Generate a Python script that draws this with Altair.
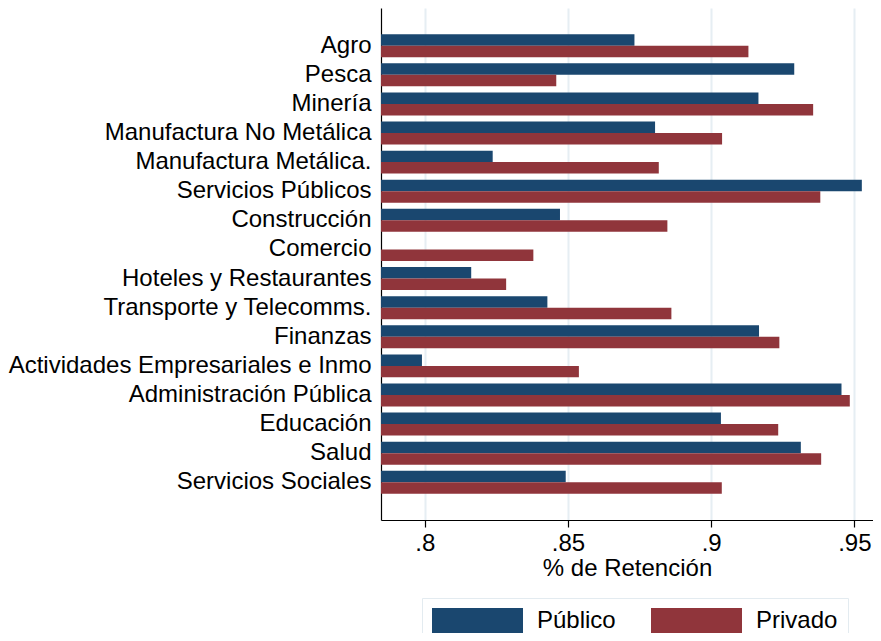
import altair as alt
import pandas as pd

categories = [
    "Agro", "Pesca", "Minería", "Manufactura No Metálica", "Manufactura Metálica.",
    "Servicios Públicos", "Construcción", "Comercio", "Hoteles y Restaurantes",
    "Transporte y Telecomms.", "Finanzas", "Actividades Empresariales e Inmo",
    "Administración Pública", "Educación", "Salud", "Servicios Sociales",
]
publico = [0.8732, 0.9290, 0.9165, 0.8804, 0.8237, 0.9526, 0.8472, None,
           0.8162, 0.8428, 0.9167, 0.7990, 0.9455, 0.9034, 0.9313, 0.8492]
privado = [0.9130, 0.8459, 0.9356, 0.9038, 0.8817, 0.9381, 0.8847, 0.8379,
           0.8284, 0.8861, 0.9238, 0.8538, 0.9484, 0.9234, 0.9384, 0.9037]
series = ["Público", "Privado"]
colors = ["#1a476f", "#90353b"]
x_ticks = [0.8, 0.85, 0.9, 0.95]

rows = []
for c, pu, pr in zip(categories, publico, privado):
    rows.append({"sector": c, "grupo": "Público", "valor": pu})
    rows.append({"sector": c, "grupo": "Privado", "valor": pr})
df = pd.DataFrame(rows)

FONT = "Liberation Sans, Arial, Helvetica, sans-serif"
FS = 24

chart = alt.Chart(df).mark_bar(clip=True).encode(
    x=alt.X(
        "valor:Q",
        scale=alt.Scale(domain=[0.7847, 0.9565], zero=False, nice=False),
        axis=alt.Axis(
            values=x_ticks,
            labelExpr="substring(format(datum.value, '.2~f'), 1)",
            title="% de Retención",
            grid=True, gridColor="#e6eef3", gridWidth=2,
            tickSize=7, tickColor="#000000", tickWidth=1.2,
            domainColor="#000000", domainWidth=1.2,
            labelFont=FONT, labelFontSize=FS, labelColor="#000000", labelPadding=4,
            titleFont=FONT, titleFontSize=FS, titleFontWeight="normal",
            titleColor="#000000", titlePadding=1,
        ),
    ),
    y=alt.Y(
        "sector:N",
        sort=categories,
        scale=alt.Scale(paddingInner=0.21, paddingOuter=0.9),
        axis=alt.Axis(
            title=None, ticks=False, grid=False,
            labelFont=FONT, labelFontSize=FS, labelColor="#000000",
            labelPadding=10, labelLimit=500,
            domainColor="#000000", domainWidth=1.2,
        ),
    ),
    yOffset=alt.YOffset("grupo:N", sort=series, scale=alt.Scale(paddingInner=0, paddingOuter=0)),
    color=alt.Color(
        "grupo:N",
        sort=series,
        scale=alt.Scale(domain=series, range=colors),
        legend=alt.Legend(
            title=None,
            orient="none",
            legendX=41,
            legendY=590,
            direction="horizontal",
            symbolType="M-3.64,-1 L3.64,-1 L3.64,1 L-3.64,1 Z",
            symbolSize=625,
            symbolStrokeWidth=0,
            symbolOpacity=1,
            symbolOffset=33,
            labelOffset=47,
            columnPadding=35,
            labelFont=FONT,
            labelFontSize=FS,
            labelColor="#000000",
            padding=10,
            strokeColor="#e3ebf0",
        ),
    ),
).properties(
    width=492,
    height=512,
    padding={"left": 373, "top": 0, "right": 0, "bottom": 113},
    autosize=alt.AutoSizeParams(type="none"),
).configure_view(stroke=None)

chart.save("out.html", embed_options={"renderer": "svg", "actions": False})
